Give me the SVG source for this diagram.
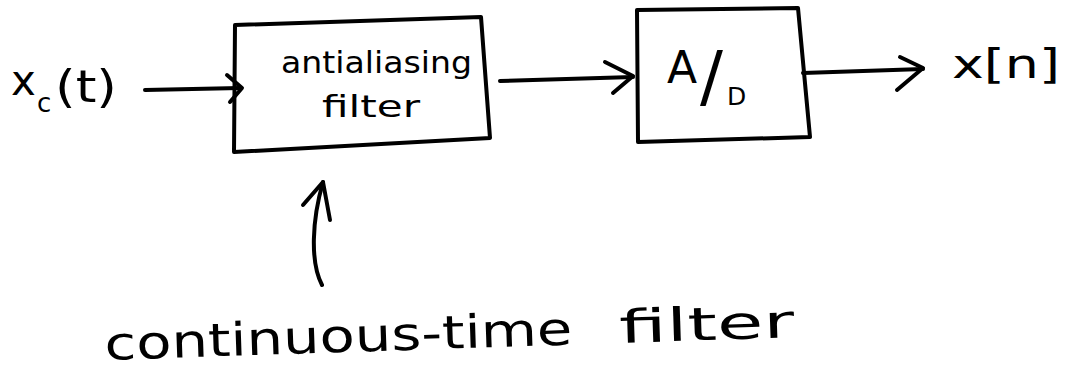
<svg xmlns="http://www.w3.org/2000/svg" width="1083" height="370" viewBox="0 0 1083 370">
  <style>
    .ink { fill: none; stroke: #000; stroke-width: 4; stroke-linecap: round; stroke-linejoin: round; }
    .box { fill: #fff; stroke: #000; stroke-width: 4; stroke-linejoin: round; }
    .lbl { font-family: "DejaVu Sans", "Liberation Sans", sans-serif; fill: #000; }
  </style>
  <rect width="1083" height="370" fill="#fff"/>

  <!-- input signal label -->
  <g id="input-label">
    <text class="lbl" x="11" y="95" font-size="42">x<tspan x="37" y="112" font-size="26">c</tspan><tspan x="55" y="102" font-size="44" textLength="62" lengthAdjust="spacingAndGlyphs">(t)</tspan></text>
  </g>

  <!-- antialiasing filter block -->
  <g id="antialiasing-filter">
    <polygon class="box" points="235,25 481,17 490,138 234,152"/>
    <text class="lbl" x="281" y="73" font-size="31" textLength="191" lengthAdjust="spacingAndGlyphs">antialiasing</text>
    <text class="lbl" x="322" y="117" font-size="31" textLength="98" lengthAdjust="spacingAndGlyphs">filter</text>
  </g>

  <!-- A/D converter block -->
  <g id="ad-converter">
    <polygon class="box" points="637,10 798,8 810,137 638,142"/>
    <text class="lbl" x="667" y="83" font-size="44">A<tspan x="700" y="100" font-size="68">/</tspan><tspan x="727" y="105" font-size="25">D</tspan></text>
  </g>

  <!-- output sequence label -->
  <g id="output-label">
    <text class="lbl" x="952" y="78" font-size="40" textLength="108" lengthAdjust="spacingAndGlyphs">x[n]</text>
  </g>

  <!-- annotation under the filter -->
  <g id="annotation" transform="rotate(-1.9 105 360)">
    <text class="lbl" x="105" y="360" font-size="46" textLength="468" lengthAdjust="spacingAndGlyphs">continuous-time</text>
    <text class="lbl" x="620" y="360" font-size="46" textLength="175" lengthAdjust="spacingAndGlyphs">filter</text>
  </g>

  <!-- connectors -->
  <g id="connectors">
    <line class="ink" x1="145" y1="90" x2="240" y2="88"/>
    <polyline class="ink" points="227,75 242,88 230,102"/>

    <line class="ink" x1="500" y1="81" x2="633" y2="77"/>
    <polyline class="ink" points="605,62 633,76 613,93"/>

    <line class="ink" x1="803" y1="73" x2="923" y2="69"/>
    <polyline class="ink" points="900,57 923,68 897,90"/>

    <path class="ink" d="M322,285 C310,262 312,220 323,182"/>
    <polyline class="ink" points="303,205 323,182 330,220"/>
  </g>
</svg>
